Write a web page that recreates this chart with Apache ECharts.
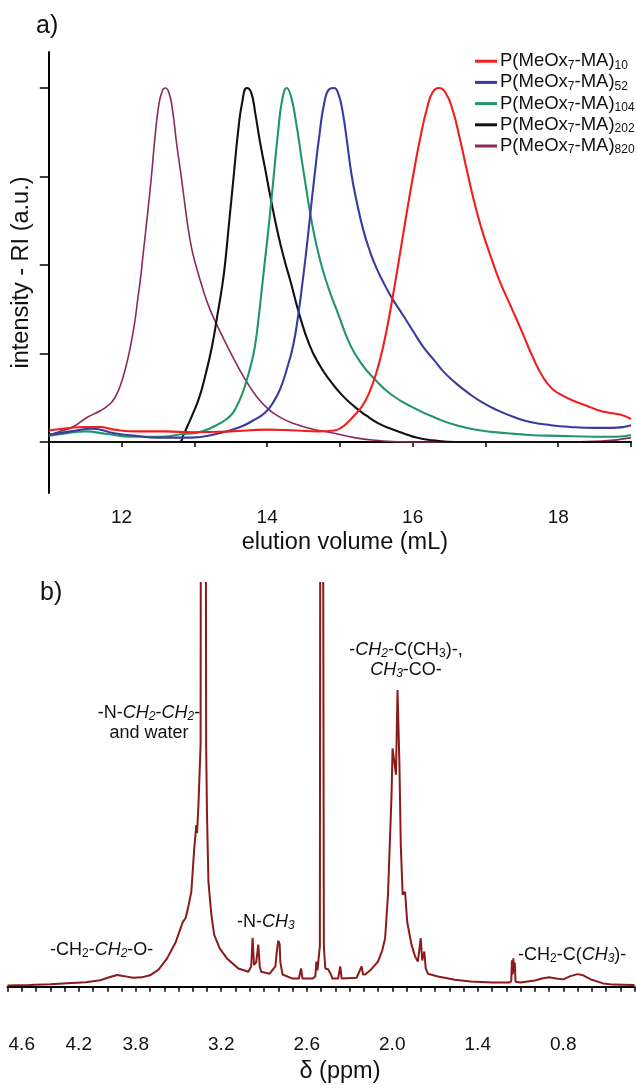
<!DOCTYPE html>
<html>
<head>
<meta charset="utf-8">
<script src="https://cdn.jsdelivr.net/npm/echarts@6/dist/echarts.min.js"></script>
<style>
html,body{margin:0;padding:0;background:#fff;}
#chart{width:637px;height:1088px;}
</style>
</head>
<body>
<div id="chart"></div>
<script>
// ---------- Panel a) GPC traces: [elution volume (mL), RI intensity (a.u.)] ----------
const dpLabels = ['10', '52', '104', '202', '820'];
const gpcColors = ['#f21d1d', '#3b3b9e', '#22956a', '#111111', '#8a2a5c'];

const trace10 = [[11,0.13],[11.2,0.15],[11.5,0.17],[11.7,0.17],[11.9,0.14],[12.2,0.12],[12.6,0.12],[13.0,0.11],[13.5,0.12],[14.0,0.14],[14.4,0.13],[14.7,0.12],[14.92,0.13],[15.05,0.18],[15.14,0.25],[15.22,0.32],[15.31,0.41],[15.4,0.55],[15.5,0.78],[15.6,1.1],[15.7,1.52],[15.8,2.0],[15.9,2.5],[16.0,2.98],[16.1,3.42],[16.2,3.78],[16.28,3.96],[16.36,4.0],[16.45,3.95],[16.55,3.75],[16.65,3.42],[16.75,3.05],[16.85,2.7],[16.95,2.4],[17.05,2.15],[17.19,1.83],[17.35,1.53],[17.5,1.25],[17.65,0.96],[17.8,0.72],[17.92,0.6],[18.05,0.53],[18.2,0.47],[18.39,0.41],[18.55,0.36],[18.7,0.33],[18.85,0.31],[19,0.26]];

const trace52 = [[11,0.08],[11.3,0.12],[11.6,0.15],[11.9,0.1],[12.2,0.07],[12.5,0.05],[12.96,0.05],[13.3,0.09],[13.63,0.17],[13.8,0.24],[13.97,0.33],[14.1,0.47],[14.19,0.62],[14.28,0.85],[14.36,1.1],[14.43,1.45],[14.49,1.83],[14.53,2.1],[14.59,2.55],[14.65,3.0],[14.72,3.48],[14.79,3.85],[14.86,3.99],[14.92,4.0],[14.98,3.93],[15.04,3.72],[15.1,3.38],[15.16,3.02],[15.23,2.72],[15.32,2.4],[15.41,2.16],[15.5,1.97],[15.6,1.8],[15.72,1.62],[15.87,1.43],[16.0,1.26],[16.15,1.07],[16.3,0.92],[16.43,0.79],[16.6,0.66],[16.77,0.55],[16.95,0.45],[17.16,0.36],[17.4,0.28],[17.6,0.23],[17.9,0.19],[18.17,0.17],[18.5,0.16],[18.73,0.16],[18.9,0.17],[19,0.19]];

const trace104 = [[11,0.07],[11.25,0.1],[11.5,0.12],[11.8,0.09],[12.14,0.06],[12.5,0.06],[12.85,0.09],[13.1,0.12],[13.35,0.21],[13.5,0.3],[13.58,0.4],[13.66,0.55],[13.72,0.7],[13.78,0.88],[13.83,1.07],[13.88,1.38],[13.93,1.75],[13.97,2.05],[14.03,2.5],[14.09,3.0],[14.15,3.5],[14.21,3.88],[14.27,4.0],[14.33,3.9],[14.4,3.6],[14.47,3.22],[14.54,2.85],[14.61,2.5],[14.69,2.18],[14.77,1.93],[14.86,1.7],[14.97,1.46],[15.14,1.1],[15.3,0.88],[15.49,0.7],[15.7,0.54],[15.98,0.4],[16.38,0.25],[16.6,0.19],[16.94,0.13],[17.3,0.1],[17.6,0.08],[18.0,0.07],[18.5,0.06],[18.8,0.06],[19,0.08]];

const trace202 = [[11,0],[12.79,0],[12.85,0.08],[12.9,0.17],[12.97,0.3],[13.07,0.51],[13.15,0.75],[13.24,1.07],[13.32,1.45],[13.38,1.75],[13.42,2.0],[13.48,2.5],[13.54,3.0],[13.6,3.5],[13.66,3.85],[13.72,4.0],[13.78,3.95],[13.84,3.7],[13.9,3.4],[13.97,3.1],[14.05,2.75],[14.15,2.35],[14.24,2.05],[14.32,1.82],[14.44,1.45],[14.58,1.1],[14.72,0.87],[14.86,0.7],[15.03,0.53],[15.2,0.4],[15.36,0.3],[15.53,0.21],[15.7,0.15],[15.87,0.1],[16.05,0.05],[16.27,0.02],[16.6,0],[19,0]];

const trace820 = [[11.0,0.08],[11.15,0.12],[11.33,0.17],[11.53,0.28],[11.7,0.35],[11.84,0.43],[11.92,0.52],[11.98,0.63],[12.05,0.82],[12.12,1.07],[12.18,1.35],[12.22,1.6],[12.26,1.85],[12.3,2.15],[12.36,2.6],[12.41,3.0],[12.46,3.45],[12.51,3.8],[12.56,3.97],[12.6,4.0],[12.65,3.95],[12.7,3.75],[12.76,3.35],[12.82,3.0],[12.9,2.5],[12.96,2.2],[13.02,2.0],[13.12,1.72],[13.2,1.53],[13.3,1.34],[13.46,1.07],[13.58,0.88],[13.69,0.72],[13.85,0.52],[14.02,0.37],[14.2,0.27],[14.36,0.21],[14.6,0.15],[14.92,0.1],[15.2,0.05],[15.48,0.02],[16,0],[17,0],[18,0],[18.6,0.01],[19,0.05]];

const gpcTicks = [11, 12, 13, 14, 15, 16, 17, 18, 19];
const gpcLabels = [12, 14, 16, 18];
const gpcYTicks = [0, 1, 2, 3, 4];

// ---------- Panel b) 1H NMR: chemical shift (ppm), intensity ----------
const nmrShift = [4.70,4.55,4.40,4.25,4.15,4.05,3.98,3.93,3.88,3.82,3.76,3.70,3.64,3.58,3.52,3.47,3.45,3.43,3.41,3.39,3.375,3.37,3.36,3.345,3.334,3.319,3.306,3.30,3.29,3.27,3.25,3.21,3.16,3.08,3.01,2.99,2.98,2.97,2.955,2.94,2.93,2.92,2.86,2.82,2.81,2.80,2.79,2.785,2.77,2.70,2.655,2.64,2.63,2.56,2.54,2.532,2.525,2.508,2.499,2.488,2.48,2.47,2.45,2.43,2.42,2.38,2.365,2.355,2.25,2.215,2.205,2.19,2.15,2.10,2.07,2.05,2.03,2.005,1.998,1.986,1.974,1.963,1.95,1.94,1.927,1.91,1.895,1.865,1.84,1.82,1.80,1.79,1.775,1.765,1.75,1.68,1.56,1.45,1.30,1.18,1.165,1.16,1.155,1.15,1.145,1.14,1.135,1.10,1.00,0.95,0.90,0.85,0.80,0.75,0.70,0.66,0.60,0.52,0.45,0.30];
const nmrIntensity = [0.3,0.4,0.6,0.9,1.1,1.6,2.4,2.9,2.6,2.2,2.3,2.8,4.2,7.0,11.0,16.0,17.0,20.0,23.5,34,40,38,45,60,400,400,60,42.6,26,18,12.9,9.4,7,4.5,3.7,5,12.1,5.4,6,10.4,5,3.7,3.2,5,8.7,11.4,10.5,6,3,2,2,4.5,2,2,2.5,6.2,4,10,400,400,10,4.5,4.3,3,2,2,5,2,2.2,5,3,3,4.2,6.2,9,12,22.8,47.5,59,59.4,52.5,73.5,55.7,35,22.8,23.5,16,10.4,7.5,6.2,12,6.5,8.7,4.5,3.2,2.5,1.7,1.3,1.0,1.0,1.3,6.5,3,7,3.5,6,1.2,1.0,1.5,2.0,2.3,2.0,1.8,2.6,3.1,2.8,1.7,0.8,0.5,0.4];
const nmrLabels = [4.6, 4.2, 3.8, 3.2, 2.6, 2.0, 1.4, 0.8];

// ---------- build ----------
const FONT = "'Liberation Sans', Arial, Helvetica, sans-serif";
const nmrTicks = [];
for (let k = 3; k <= 47; k++) nmrTicks.push(k / 10);
const nmrData = nmrShift.map((d, i) => [d, nmrIntensity[i]]);
const gpcTraces = [trace10, trace52, trace104, trace202, trace820];
const gpcNames = dpLabels.map(d => 'P(MeOx7-MA)' + d);

const rich = {
  n: {fontSize: 18, lineHeight: 20, fontFamily: FONT, color: '#111'},
  i: {fontSize: 18, lineHeight: 20, fontFamily: FONT, fontStyle: 'italic', color: '#111'},
  s: {fontSize: 12, lineHeight: 10, verticalAlign: 'bottom', fontFamily: FONT, color: '#111'},
  si: {fontSize: 12, lineHeight: 10, verticalAlign: 'bottom', fontFamily: FONT, fontStyle: 'italic', color: '#111'}
};
const legendRich = {
  a: {fontSize: 18.5, lineHeight: 20, fontFamily: FONT, color: '#111'},
  s: {fontSize: 12, lineHeight: 10, verticalAlign: 'bottom', fontFamily: FONT, color: '#111'}
};

function label(x, y, text, align) {
  return {type: 'text', x: x, y: y, silent: true,
    style: {text: text, rich: rich, align: align, verticalAlign: 'middle', fill: '#111', fontFamily: FONT, fontSize: 18, lineHeight: 20}};
}

const option = {
  animation: false,
  backgroundColor: '#fff',
  textStyle: {fontFamily: FONT},
  grid: [
    {left: 48.8, right: 6, top: 52, bottom: 595},
    {left: 7.5, right: 2.5, top: 583, bottom: 61}
  ],
  legend: {
    orient: 'vertical', left: 475, top: 51.7, padding: 0,
    itemWidth: 22, itemHeight: 3, itemGap: 1.7, icon: 'rect',
    data: gpcNames,
    formatter: function (name) {
      const dp = name.replace('P(MeOx7-MA)', '');
      return '{a|P(MeOx}{s|7}{a|-MA)}{s|' + dp + '}';
    },
    textStyle: {rich: legendRich, fontSize: 18.5, color: '#111', padding: [0, 0, 0, -2]}
  },
  xAxis: [
    {gridIndex: 0, type: 'value', min: 11, max: 19, interval: 1,
      axisLine: {lineStyle: {color: '#000', width: 2}},
      axisTick: {customValues: gpcTicks, length: 5, lineStyle: {color: '#000', width: 1.5}},
      axisLabel: {customValues: gpcLabels, color: '#111', fontSize: 19, margin: 15, fontFamily: FONT},
      splitLine: {show: false},
      name: 'elution volume (mL)', nameLocation: 'middle', nameGap: 38,
      nameTextStyle: {fontSize: 23.5, color: '#111', fontFamily: FONT, padding: [0, 0, 0, 10]}},
    {gridIndex: 1, type: 'value', min: 0.3, max: 4.7, interval: 0.1, inverse: true,
      axisLine: {lineStyle: {color: '#000', width: 2}},
      axisTick: {customValues: nmrTicks, length: 5, lineStyle: {color: '#000', width: 1.5}},
      axisLabel: {customValues: nmrLabels, color: '#111', fontSize: 19, margin: 8, fontFamily: FONT,
        formatter: v => Number(v).toFixed(1)},
      splitLine: {show: false},
      name: 'δ (ppm)', nameLocation: 'middle', nameGap: 33,
      nameTextStyle: {fontSize: 23.5, color: '#111', fontFamily: FONT, padding: [0, 0, 0, 38]}}
  ],
  yAxis: [
    {gridIndex: 0, type: 'value', min: -0.576, max: 4.407,
      axisLine: {show: true, lineStyle: {color: '#000', width: 2}},
      axisTick: {show: true, customValues: gpcYTicks, length: 9, lineStyle: {color: '#000', width: 1.5}},
      axisLabel: {show: false},
      splitLine: {show: false},
      name: 'intensity - RI (a.u.)', nameLocation: 'middle', nameGap: 15,
      nameTextStyle: {fontSize: 23.5, color: '#111', fontFamily: FONT}},
    {gridIndex: 1, type: 'value', min: -10, max: 100, show: false}
  ],
  series: gpcTraces.map((tr, i) => ({
    name: gpcNames[i], type: 'line', xAxisIndex: 0, yAxisIndex: 0,
    data: tr, showSymbol: false, symbol: 'none', smooth: 0.5,
    lineStyle: {color: gpcColors[i], width: i === 4 ? 1.6 : 2.1},
    itemStyle: {color: gpcColors[i]}, z: 5 - i
  })).concat([{
    name: 'NMR', type: 'line', xAxisIndex: 1, yAxisIndex: 1,
    data: nmrData, showSymbol: false, symbol: 'none', clip: true,
    lineStyle: {color: '#8b1a1a', width: 2}, itemStyle: {color: '#8b1a1a'}
  }]),
  graphic: [
    {type: 'text', x: 36, y: 26, style: {text: 'a)', fontSize: 25, fontFamily: FONT, fill: '#111', verticalAlign: 'middle'}},
    {type: 'text', x: 40, y: 593, style: {text: 'b)', fontSize: 25, fontFamily: FONT, fill: '#111', verticalAlign: 'middle'}},
    label(50, 950, '{n|-CH}{s|2}{n|-}{i|CH}{si|2}{n|-O-}', 'left'),
    label(237, 922, '{n|-N-}{i|CH}{si|3}', 'left'),
    label(149, 723, '{n|-N-}{i|CH}{si|2}{n|-}{i|CH}{si|2}{n|-}\n{n|and water}', 'center'),
    label(406, 660, '{n|-}{i|CH}{si|2}{n|-C(CH}{s|3}{n|)-,}\n{i|CH}{si|3}{n|-CO-}', 'center'),
    label(518, 955, '{n|-CH}{s|2}{n|-C(}{i|CH}{si|3}{n|)-}', 'left')
  ]
};

const chart = echarts.init(document.getElementById('chart'), null, {renderer: 'canvas'});
chart.setOption(option);
</script>
</body>
</html>
